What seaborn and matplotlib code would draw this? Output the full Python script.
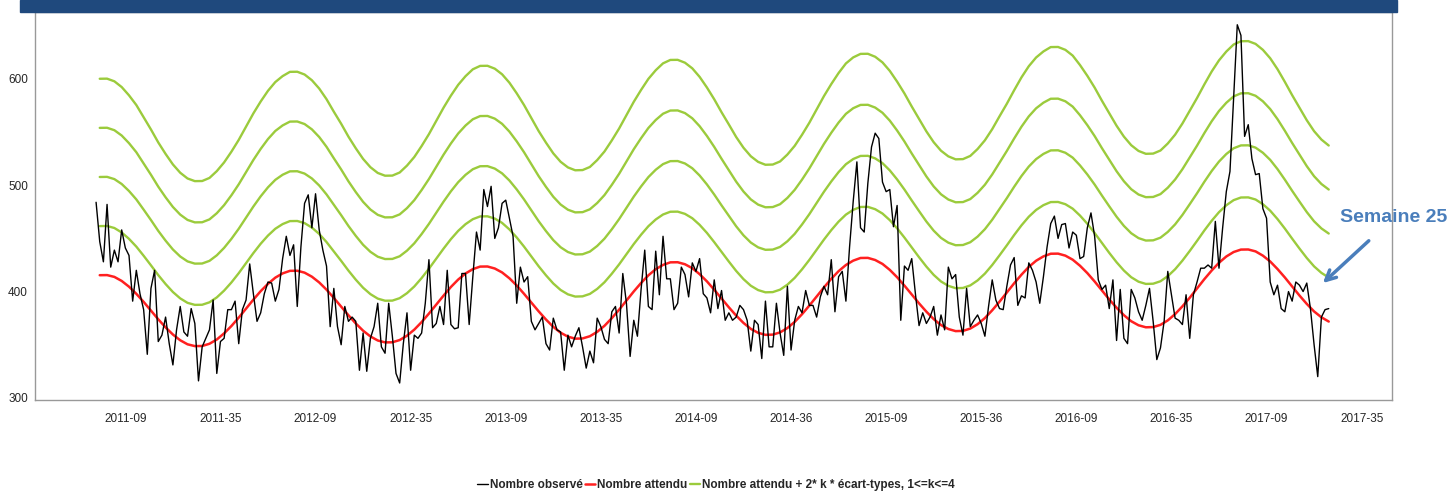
import numpy as np
import pandas as pd
import matplotlib.pyplot as plt
import seaborn as sns
from matplotlib.patches import Rectangle

# semaines depuis 2011-01 (0 .. 337 = 2017-25)
observe = [
    484, 447, 428, 482, 423, 439, 428, 458, 441, 434,
    391, 420, 398, 383, 341, 403, 420, 353, 359, 376,
    351, 331, 364, 386, 362, 358, 384, 370, 316, 348,
    356, 364, 392, 323, 353, 356, 383, 383, 391, 351,
    383, 392, 426, 398, 372, 380, 398, 409, 408, 391,
    402, 431, 452, 434, 444, 386, 442, 483, 491, 460,
    492, 458, 439, 424, 367, 403, 367, 350, 386, 372,
    376, 372, 326, 361, 325, 356, 367, 389, 348, 342,
    389, 358, 323, 314, 351, 380, 326, 359, 356, 361,
    389, 430, 366, 370, 386, 369, 420, 369, 365, 366,
    417, 417, 369, 414, 456, 439, 496, 480, 499, 450,
    460, 483, 486, 469, 452, 389, 423, 409, 414, 372,
    364, 370, 376, 351, 345, 375, 364, 362, 326, 359,
    348, 358, 366, 348, 328, 344, 333, 375, 367, 355,
    351, 381, 386, 361, 417, 389, 339, 373, 358, 402,
    439, 386, 383, 438, 397, 452, 412, 412, 383, 389,
    423, 416, 395, 427, 419, 431, 398, 394, 380, 411,
    384, 401, 373, 380, 373, 376, 387, 383, 373, 344,
    373, 369, 337, 391, 348, 348, 389, 361, 340, 405,
    345, 373, 386, 380, 401, 387, 387, 376, 395, 405,
    397, 430, 381, 414, 419, 391, 442, 485, 522, 460,
    456, 502, 536, 549, 544, 503, 494, 496, 461, 481,
    373, 424, 420, 431, 398, 368, 380, 370, 376, 386,
    359, 378, 364, 423, 412, 416, 376, 359, 403, 367,
    373, 378, 370, 358, 386, 411, 392, 384, 383, 405,
    425, 432, 387, 396, 394, 427, 420, 409, 389, 414,
    442, 464, 471, 450, 463, 464, 441, 456, 453, 431,
    433, 460, 474, 452, 411, 402, 406, 384, 411, 354,
    402, 356, 351, 402, 394, 381, 373, 387, 403, 372,
    336, 347, 372, 419, 397, 375, 373, 369, 397, 356,
    397, 409, 422, 422, 425, 422, 466, 422, 460, 494,
    513, 582, 651, 641, 546, 557, 525, 510, 511, 478,
    469, 409, 397, 406, 384, 381, 400, 391, 409, 406,
    400, 408, 384, 350, 320, 376, 383, 384,
]

# modele : une valeur toutes les 2 semaines (semaines 1, 3, ..., 337)
semaines_modele = list(range(1, 338, 2))
attendu = [
    415.4, 415.5, 413.8, 410.0, 404.6, 397.9, 390.3, 382.1, 373.9, 366.3, 359.6, 354.2, 350.4,
    348.7, 348.8, 350.9, 354.9, 360.7, 367.6, 375.5, 384.0, 392.4, 400.4, 407.3, 413.1, 417.1,
    419.5, 419.6, 417.8, 414.0, 408.6, 401.8, 394.0, 385.9, 377.7, 370.0, 363.2, 357.8, 354.0,
    352.2, 352.3, 354.4, 358.5, 364.2, 371.3, 379.3, 387.8, 396.2, 404.3, 411.3, 417.0, 421.1,
    423.5, 423.6, 421.7, 418.0, 412.5, 405.7, 397.9, 389.7, 381.4, 373.7, 366.8, 361.3, 357.6,
    355.7, 355.9, 358.0, 362.1, 367.8, 375.0, 383.0, 391.5, 400.1, 408.1, 415.3, 421.0, 425.1,
    427.5, 427.6, 425.7, 422.0, 416.4, 409.6, 401.7, 393.5, 385.2, 377.4, 370.5, 364.9, 361.2,
    359.3, 359.5, 361.6, 365.7, 371.5, 378.7, 386.8, 395.3, 403.9, 412.0, 419.2, 425.0, 429.1,
    431.6, 431.7, 429.7, 426.0, 420.4, 413.5, 405.6, 397.3, 388.9, 381.1, 374.1, 368.5, 364.8,
    362.8, 363.0, 365.2, 369.3, 375.1, 382.4, 390.5, 399.1, 407.8, 415.9, 423.2, 429.0, 433.1,
    435.6, 435.7, 433.8, 430.0, 424.3, 417.4, 409.5, 401.1, 392.6, 384.8, 377.8, 372.1, 368.3,
    366.4, 366.6, 368.7, 372.9, 378.8, 386.1, 394.2, 402.9, 411.7, 419.8, 427.1, 433.0, 437.2,
    439.5, 439.6, 437.8, 433.8, 428.3, 421.2, 413.3, 404.8, 396.3, 388.4, 381.3, 375.8, 371.8,
]
ecart_type = [
    23.1, 23.1, 23.0, 22.8, 22.5, 22.2, 21.7, 21.3, 20.8, 20.4, 20.0, 19.7, 19.5,
    19.4, 19.4, 19.5, 19.8, 20.1, 20.5, 20.9, 21.4, 21.9, 22.3, 22.7, 23.0, 23.2,
    23.4, 23.4, 23.3, 23.1, 22.8, 22.4, 21.9, 21.5, 21.0, 20.6, 20.2, 19.9, 19.7,
    19.6, 19.6, 19.7, 20.0, 20.3, 20.7, 21.1, 21.6, 22.1, 22.5, 22.9, 23.2, 23.5,
    23.6, 23.6, 23.5, 23.3, 23.0, 22.6, 22.2, 21.7, 21.2, 20.8, 20.4, 20.1, 19.9,
    19.8, 19.8, 19.9, 20.2, 20.5, 20.9, 21.3, 21.8, 22.3, 22.7, 23.1, 23.4, 23.7,
    23.8, 23.8, 23.7, 23.5, 23.2, 22.8, 22.4, 21.9, 21.5, 21.0, 20.6, 20.3, 20.1,
    20.0, 20.0, 20.1, 20.4, 20.7, 21.1, 21.5, 22.0, 22.5, 22.9, 23.3, 23.7, 23.9,
    24.0, 24.0, 23.9, 23.7, 23.4, 23.0, 22.6, 22.1, 21.7, 21.2, 20.8, 20.5, 20.3,
    20.2, 20.2, 20.3, 20.6, 20.9, 21.3, 21.8, 22.2, 22.7, 23.2, 23.6, 23.9, 24.1,
    24.3, 24.3, 24.2, 24.0, 23.6, 23.2, 22.8, 22.3, 21.9, 21.4, 21.0, 20.7, 20.5,
    20.4, 20.4, 20.5, 20.8, 21.1, 21.5, 22.0, 22.4, 22.9, 23.4, 23.8, 24.1, 24.4,
    24.5, 24.5, 24.4, 24.2, 23.9, 23.5, 23.0, 22.5, 22.1, 21.6, 21.2, 20.9, 20.7,
]

tick_labels = ['2011-09', '2011-35', '2012-09', '2012-35', '2013-09', '2013-35', '2014-09',
               '2014-36', '2015-09', '2015-36', '2016-09', '2016-35', '2017-09', '2017-35']
tick_pos = [8 + 26 * i for i in range(len(tick_labels))]

sns.set_style("white")
plt.rcParams['font.family'] = ['Liberation Sans Narrow', 'Liberation Sans', 'DejaVu Sans']

fig = plt.figure(figsize=(14.51, 4.95), dpi=100)
ax = fig.add_axes([35 / 1451, 1 - 400 / 495, (1392 - 35) / 1451, (400 - 12) / 495])

df_obs = pd.DataFrame({'semaine': range(len(observe)), 'valeur': observe})
df_mod = pd.DataFrame({'semaine': semaines_modele, 'attendu': attendu, 'sd': ecart_type})

vert = '#9BCB3C'
for k in range(1, 5):
    sns.lineplot(x=df_mod['semaine'], y=df_mod['attendu'] + 2 * k * df_mod['sd'], ax=ax,
                 color=vert, lw=1.7,
                 label='Nombre attendu + 2* k * écart-types, 1<=k<=4' if k == 1 else None)
sns.lineplot(data=df_mod, x='semaine', y='attendu', ax=ax, color='#FF2020', lw=1.8,
             label='Nombre attendu')
sns.lineplot(data=df_obs, x='semaine', y='valeur', ax=ax, color='black', lw=1.0,
             label='Nombre observé')

ax.set_xlim(-16.7, 354.3)
ax.set_ylim(298, 663)
ax.set_yticks([300, 400, 500, 600])
ax.set_xticks(tick_pos)
ax.set_xticklabels(tick_labels)
ax.set_xlabel('')
ax.set_ylabel('')
ax.tick_params(axis='both', labelsize=8.5, length=3, width=0.8, color='#555555', pad=6)
ax.tick_params(axis='y', pad=2)
for s in ax.spines.values():
    s.set_color('#999999')
    s.set_linewidth(1.0)

# legende en bas, ordre observe / attendu / seuils
h, l = ax.get_legend_handles_labels()
order = [l.index('Nombre observé'), l.index('Nombre attendu'),
         l.index('Nombre attendu + 2* k * écart-types, 1<=k<=4')]
ax.get_legend().remove()
fig.legend([h[i] for i in order], [l[i] for i in order], loc='center',
           bbox_to_anchor=(716 / 1451, 1 - 485 / 495), ncol=3, frameon=False,
           handlelength=0.9, handletextpad=0.15, columnspacing=0.2,
           prop={'size': 8.5, 'weight': 'bold'})

ax.annotate('Semaine 25', xy=(335.4, 408), xytext=(354.8, 469.5),
            ha='center', va='center', fontsize=14, fontweight='bold', color='#4A7EBB',
            family=['Liberation Sans', 'DejaVu Sans'], annotation_clip=False,
            arrowprops=dict(arrowstyle='->', color='#4A7EBB', lw=2.5,
                            shrinkA=12, shrinkB=0, mutation_scale=18))

fig.patches.append(Rectangle((20 / 1451, 1 - 12 / 495), (1397 - 20) / 1451, 12 / 495,
                             transform=fig.transFigure, color='#1F497D', zorder=10))

fig.savefig('out.png', dpi=100)
